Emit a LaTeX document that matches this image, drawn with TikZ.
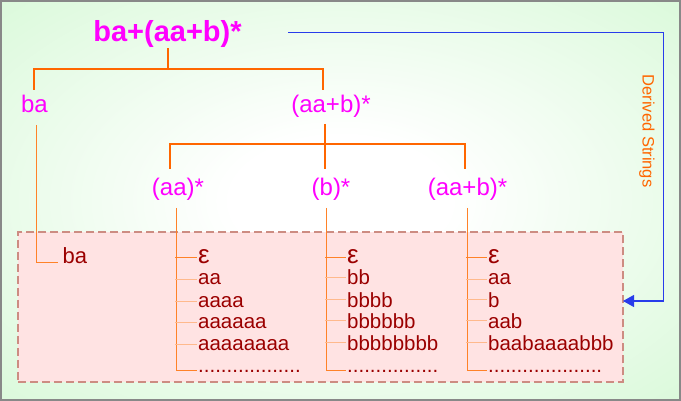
\documentclass[tikz,border=0pt]{standalone}
\usepackage{fontspec}
\setmainfont{Liberation Sans}
\usetikzlibrary{arrows.meta}
\definecolor{bggreen}{RGB}{200,246,200}
\definecolor{mag}{RGB}{255,0,255}
\definecolor{treeor}{RGB}{255,102,0}
\definecolor{lineor}{RGB}{255,130,40}
\definecolor{tickor}{RGB}{255,185,140}
\definecolor{itemred}{RGB}{155,0,0}
\definecolor{boxfill}{RGB}{255,227,227}
\definecolor{boxedge}{RGB}{205,140,130}
\definecolor{arrowblue}{RGB}{40,60,235}
\definecolor{framegray}{RGB}{136,136,136}
\pgfdeclareradialshading{bgshade}{\pgfpoint{0bp}{0bp}}{color(0bp)=(white); color(8bp)=(white); color(50bp)=(bggreen); color(80bp)=(bggreen)}
\begin{document}
\begin{tikzpicture}[x=1pt,y=-1pt,
  rootlbl/.style={text=mag, font=\fontsize{29}{29}\selectfont\bfseries, inner sep=0pt, anchor=base},
  lvl/.style={text=mag, font=\fontsize{24}{24}\selectfont, inner sep=0pt, anchor=base},
  itemtext/.style={text=itemred, font=\fontsize{20.5}{20.5}\selectfont, inner sep=0pt, anchor=base west},
  epstext/.style={itemtext, font=\fontsize{26}{26}\selectfont},
  tree/.style={draw=treeor, line width=2pt},
  vline/.style={draw=lineor, line width=1pt},
  branchtick/.style={draw=tickor, line width=1pt},
  derivedbox/.style={draw=boxedge, fill=boxfill, line width=2pt, dash pattern=on 8pt off 4pt, inner sep=0pt, outer sep=0pt},
  blueline/.style={draw=arrowblue, line width=1pt},
  derlbl/.style={text=treeor, font=\fontsize{16.5}{16.5}\selectfont, inner sep=0pt, rotate=-90}
]
\useasboundingbox (0,0) rectangle (681,401);
\shade[shading=bgshade] (0,0) rectangle (681,401);
\draw[framegray, line width=2pt] (1,1) rectangle (680,400);

% derived strings box
\node[derivedbox, anchor=north west, minimum width=605pt, minimum height=150pt] (box) at (18,232) {};

% tree labels
\node[rootlbl] (root) at (167.5,42) {ba+(aa+b)*};
\node[lvl] (ba1) at (34.5,113) {ba};
\node[lvl] (ab1) at (331,113) {(aa+b)*};
\node[lvl] (aas) at (178,196) {(aa)*};
\node[lvl] (bs) at (331,196) {(b)*};
\node[lvl] (ab2) at (467.5,196) {(aa+b)*};

% tree connectors
\draw[tree] (root.south) -- ++(0,21) coordinate (rj);
\coordinate (bj) at (34,90);
\coordinate (aj) at (323,90);
\draw[tree] (bj) |- (rj) -| (aj);
\coordinate (abj) at (325,124);
\coordinate (mj) at (325,144);
\coordinate (l2a) at (170,169);
\coordinate (l2b) at (325,169);
\coordinate (l2c) at (465,169);
\draw[tree] (abj) -- (l2b);
\draw[tree] (l2a) |- (mj) -| (l2c);

% ba item
\node[itemtext, font=\fontsize{22}{22}\selectfont] (bai) at (62.5,264) {ba};
\coordinate (bav) at (36,125);
\draw[vline] (bav) |- ([xshift=-5pt,yshift=1pt]bai.base west);

% column 1
\node[epstext] (c1e) at (198,264) {ε};
\node[itemtext] (c1a) at (198,285) {aa};
\node[itemtext] (c1b) at (198,307) {aaaa};
\node[itemtext] (c1c) at (198,328) {aaaaaa};
\node[itemtext] (c1d) at (198,350) {aaaaaaaa};
\node[itemtext] (c1f) at (198,372) {..................};
\coordinate (v1) at (176,208);
\draw[vline] (v1) |- ([xshift=-1pt]c1f.west);
\draw[vline] ([xshift=-1pt]c1e.west) -- ([xshift=-1pt]c1e.west -| v1);
\foreach \n in {c1a,c1b,c1c,c1d}
  \draw[branchtick] ([xshift=-1pt]\n.west) -- ([xshift=-1pt]\n.west -| v1);

% column 2
\node[epstext] (c2e) at (347,264) {ε};
\node[itemtext] (c2a) at (347,285) {bb};
\node[itemtext] (c2b) at (347,307) {bbbb};
\node[itemtext] (c2c) at (347,328) {bbbbbb};
\node[itemtext] (c2d) at (347,350) {bbbbbbbb};
\node[itemtext] (c2f) at (347,372) {................};
\coordinate (v2) at (326,208);
\draw[vline] (v2) |- ([xshift=-1pt]c2f.west);
\draw[vline] ([xshift=-1pt]c2e.west) -- ([xshift=-1pt]c2e.west -| v2);
\foreach \n in {c2a,c2b,c2c,c2d}
  \draw[branchtick] ([xshift=-1pt]\n.west) -- ([xshift=-1pt]\n.west -| v2);

% column 3
\node[epstext] (c3e) at (488,264) {ε};
\node[itemtext] (c3a) at (488,285) {aa};
\node[itemtext] (c3b) at (488,307) {b};
\node[itemtext] (c3c) at (488,328) {aab};
\node[itemtext] (c3d) at (488,350) {baabaaaabbb};
\node[itemtext] (c3f) at (488,372) {....................};
\coordinate (v3) at (467,208);
\draw[vline] (v3) |- ([xshift=-1pt]c3f.west);
\draw[vline] ([xshift=-1pt]c3e.west) -- ([xshift=-1pt]c3e.west -| v3);
\foreach \n in {c3a,c3b,c3c,c3d}
  \draw[branchtick] ([xshift=-1pt]\n.west) -- ([xshift=-1pt]\n.west -| v3);

% derived strings arrow
\node[derlbl] (dl) at (647,131) {Derived Strings};
\coordinate (bstart) at (288,33);
\coordinate (bcorner) at (663,301);
\draw[blueline, -{Triangle[length=11pt,width=12pt]}] (bstart) -| (bcorner) -- (box.east |- bcorner);
\end{tikzpicture}
\end{document}
